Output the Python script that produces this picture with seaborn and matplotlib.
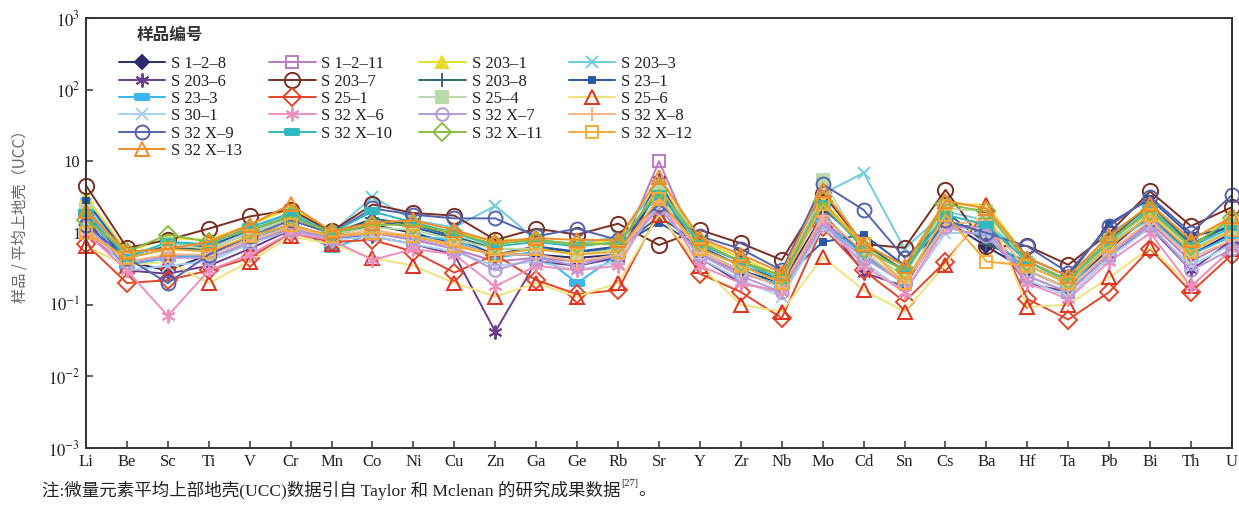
import numpy as np
import pandas as pd
import matplotlib
matplotlib.use("Agg")
import matplotlib.pyplot as plt
from matplotlib.font_manager import FontProperties
from matplotlib.ticker import NullLocator
import seaborn as sns

elements = ["Li", "Be", "Sc", "Ti", "V", "Cr", "Mn", "Co", "Ni", "Cu", "Zn", "Ga", "Ge", "Rb", "Sr",
            "Y", "Zr", "Nb", "Mo", "Cd", "Sn", "Cs", "Ba", "Hf", "Ta", "Pb", "Bi", "Th", "U"]

# sample / UCC ratios
S1_2_8   = [2.0, 0.40, 0.30, 0.50, 0.90, 1.30, 0.90, 1.30, 1.00, 0.70, 0.50, 0.50, 0.45, 0.50, 4.0, 0.55, 0.30, 0.20, 1.8, 0.50, 0.20, 1.5, 0.65, 0.30, 0.17, 0.60, 1.8, 0.50, 1.0]
S1_2_11  = [1.0, 0.35, 0.50, 0.45, 0.70, 1.20, 0.85, 1.00, 0.80, 0.60, 0.40, 0.45, 0.40, 0.45, 10.0, 0.50, 0.28, 0.18, 1.5, 0.50, 0.20, 1.2, 1.20, 0.25, 0.15, 0.50, 1.4, 0.40, 0.8]
S203_1   = [3.2, 0.55, 0.85, 0.80, 1.30, 2.20, 1.10, 1.40, 1.40, 1.00, 0.80, 0.80, 0.70, 0.80, 5.0, 0.80, 0.45, 0.25, 2.8, 0.70, 0.35, 2.5, 2.50, 0.45, 0.25, 0.90, 2.5, 0.80, 1.6]
S203_3   = [2.5, 0.50, 0.70, 0.70, 1.20, 1.80, 1.00, 3.20, 1.50, 1.20, 2.40, 0.80, 0.70, 0.90, 4.5, 0.75, 0.40, 0.22, 3.5, 6.90, 0.60, 2.0, 1.50, 0.40, 0.20, 1.00, 2.2, 0.70, 1.4]
S203_6   = [1.6, 0.30, 0.27, 0.35, 0.60, 1.10, 0.85, 0.90, 0.70, 0.50, 0.042, 0.40, 0.35, 0.45, 5.5, 0.45, 0.20, 0.15, 1.6, 0.28, 0.18, 1.5, 1.00, 0.20, 0.15, 0.50, 1.2, 0.30, 0.8]
S203_7   = [4.6, 0.62, 0.80, 1.15, 1.70, 2.10, 1.05, 2.50, 1.90, 1.75, 0.80, 1.15, 0.95, 1.35, 0.68, 1.10, 0.72, 0.42, 3.5, 0.70, 0.62, 4.0, 0.65, 0.66, 0.36, 1.00, 3.8, 1.25, 2.3]
S203_8   = [2.2, 0.45, 0.60, 0.60, 1.00, 1.60, 0.95, 1.60, 1.30, 0.90, 0.60, 0.60, 0.55, 0.60, 1.7, 0.70, 0.40, 0.25, 2.2, 0.70, 0.30, 2.0, 0.70, 0.40, 0.22, 0.80, 2.5, 0.70, 1.3]
S23_1    = [2.8, 0.50, 0.65, 0.65, 1.10, 1.70, 1.00, 1.50, 1.20, 0.85, 0.50, 0.65, 0.55, 0.65, 1.4, 0.65, 0.35, 0.22, 0.75, 0.95, 0.35, 1.3, 1.20, 0.45, 0.25, 1.35, 3.0, 0.90, 1.2]
S23_3    = [1.8, 0.35, 0.45, 0.50, 0.80, 1.30, 0.60, 1.00, 0.90, 0.80, 0.45, 0.55, 0.20, 0.50, 3.0, 0.55, 0.30, 0.18, 1.4, 0.50, 0.20, 1.4, 1.00, 0.30, 0.17, 0.70, 1.6, 0.50, 0.9]
S25_1    = [0.70, 0.20, 0.22, 0.30, 0.45, 1.00, 0.75, 0.80, 0.55, 0.28, 0.50, 0.22, 0.14, 0.16, 2.0, 0.27, 0.15, 0.065, 1.2, 0.30, 0.11, 0.40, 2.00, 0.12, 0.062, 0.15, 0.60, 0.15, 0.5]
S25_4    = [2.0, 0.50, 0.70, 0.60, 1.00, 1.60, 0.95, 1.20, 1.10, 0.80, 0.60, 0.60, 0.50, 0.60, 4.5, 0.60, 0.35, 0.20, 5.5, 0.60, 0.25, 2.2, 2.00, 0.35, 0.20, 0.70, 2.0, 0.60, 1.1]
S25_6    = [0.65, 0.35, 0.40, 0.20, 0.40, 0.90, 0.70, 0.45, 0.35, 0.20, 0.13, 0.20, 0.13, 0.20, 1.8, 0.35, 0.10, 0.08, 0.46, 0.16, 0.08, 0.36, 2.45, 0.093, 0.10, 0.24, 0.62, 0.18, 0.6]
S30_1    = [1.4, 0.30, 0.35, 0.40, 0.70, 1.10, 0.80, 0.90, 0.70, 0.55, 0.35, 0.40, 0.30, 0.40, 2.5, 0.45, 0.22, 0.13, 1.2, 0.40, 0.15, 1.0, 1.00, 0.22, 0.13, 0.45, 1.2, 0.35, 0.7]
S32X_6   = [1.0, 0.30, 0.07, 0.30, 0.50, 1.00, 0.80, 0.42, 0.60, 0.50, 0.18, 0.35, 0.30, 0.35, 3.0, 0.35, 0.20, 0.15, 1.5, 0.35, 0.15, 1.2, 1.20, 0.20, 0.12, 0.40, 1.0, 0.18, 0.6]
S32X_7   = [1.2, 0.40, 0.45, 0.45, 0.75, 1.10, 0.85, 1.00, 0.85, 0.60, 0.30, 0.45, 0.35, 0.50, 2.2, 0.50, 0.25, 0.15, 1.3, 0.45, 0.20, 1.2, 0.90, 0.25, 0.15, 0.50, 1.3, 0.30, 0.6]
S32X_8   = [1.1, 0.40, 0.50, 0.50, 0.80, 1.20, 0.90, 1.10, 0.90, 0.70, 0.50, 0.50, 0.40, 0.50, 2.8, 0.55, 0.30, 0.17, 1.7, 0.55, 0.20, 1.3, 1.50, 0.30, 0.17, 0.55, 1.5, 0.45, 0.8]
S32X_9   = [1.3, 0.45, 0.20, 0.50, 0.90, 1.50, 1.00, 2.20, 1.80, 1.60, 1.60, 0.90, 1.15, 0.80, 2.5, 0.90, 0.60, 0.30, 4.8, 2.10, 0.45, 1.5, 1.00, 0.65, 0.28, 1.25, 3.2, 1.00, 3.4]
S32X_10  = [1.9, 0.45, 0.75, 0.70, 1.20, 1.90, 1.00, 2.00, 1.40, 1.00, 0.65, 0.75, 0.65, 0.75, 3.5, 0.70, 0.40, 0.22, 2.5, 0.60, 0.30, 1.8, 1.30, 0.40, 0.22, 0.75, 2.2, 0.65, 1.2]
S32X_11  = [1.5, 0.55, 0.95, 0.75, 1.10, 1.70, 1.00, 1.30, 1.30, 1.00, 0.70, 0.80, 0.70, 0.70, 4.0, 0.75, 0.40, 0.25, 2.8, 0.60, 0.30, 2.5, 2.00, 0.40, 0.22, 0.80, 2.0, 0.65, 1.6]
S32X_12  = [1.0, 0.45, 0.60, 0.55, 0.90, 1.30, 0.90, 1.00, 0.90, 0.65, 0.50, 0.60, 0.50, 0.55, 3.0, 0.60, 0.35, 0.20, 2.5, 0.70, 0.20, 1.8, 0.40, 0.35, 0.20, 0.65, 1.8, 0.55, 1.1]
S32X_13  = [2.0, 0.55, 0.60, 0.75, 1.30, 2.50, 1.05, 1.40, 1.50, 1.10, 0.75, 0.85, 0.80, 0.80, 6.0, 0.85, 0.50, 0.28, 4.0, 0.70, 0.35, 2.8, 2.20, 0.45, 0.25, 0.90, 2.5, 0.80, 1.7]

labels = ["S 1–2–8", "S 1–2–11", "S 203–1", "S 203–3",
          "S 203–6", "S 203–7", "S 203–8", "S 23–1",
          "S 23–3", "S 25–1", "S 25–4", "S 25–6",
          "S 30–1", "S 32 X–6", "S 32 X–7", "S 32 X–8",
          "S 32 X–9", "S 32 X–10", "S 32 X–11", "S 32 X–12",
          "S 32 X–13"]
series = [S1_2_8, S1_2_11, S203_1, S203_3, S203_6, S203_7, S203_8, S23_1, S23_3, S25_1, S25_4,
          S25_6, S30_1, S32X_6, S32X_7, S32X_8, S32X_9, S32X_10, S32X_11, S32X_12, S32X_13]

bar = [(-1, -0.38), (1, -0.38), (1, 0.38), (-1, 0.38), (-1, -0.38)]
ast = (6, 2, 0)
# (line colour, marker, marker size, filled, marker colour)
styles = [
    ("#2d2a6e", "D", 7, True, "#2d2a6e"),
    ("#b77cc4", "s", 9, False, "#b77cc4"),
    ("#e6da2a", "^", 9, True, "#e6da2a"),
    ("#6fcddc", "x", 9, False, "#6fcddc"),
    ("#6b3b8c", ast, 10, False, "#6b3b8c"),
    ("#7a2e22", "o", 11, False, "#7a2e22"),
    ("#2f6b6e", "+", 10, False, "#2f6b6e"),
    ("#2a55a8", "s", 5, True, "#2a55a8"),
    ("#3ab6ea", bar, 10, True, "#3ab6ea"),
    ("#e2452a", "D", 9, False, "#e2452a"),
    ("#b9dba9", "s", 9, True, "#b9dba9"),
    ("#f2e27a", "^", 10, False, "#e0301e"),
    ("#a7cfee", "x", 9, False, "#a7cfee"),
    ("#ef8fc0", ast, 10, False, "#ef8fc0"),
    ("#b49bd8", "o", 9, False, "#b49bd8"),
    ("#f6b487", "+", 10, False, "#f6b487"),
    ("#5562ad", "o", 10, False, "#5562ad"),
    ("#32b9bf", bar, 10, True, "#32b9bf"),
    ("#8bbb45", "D", 9, False, "#8bbb45"),
    ("#f3ac35", "s", 9, False, "#f3ac35"),
    ("#f28c28", "^", 10, False, "#f28c28"),
]

sns.set_theme(style="white")
plt.rcParams["font.family"] = ["Liberation Serif", "Noto Sans CJK SC", "DejaVu Sans"]
plt.rcParams["mathtext.fontset"] = "stix"

fig = plt.figure(figsize=(12.39, 5.08), dpi=100)
ax = fig.add_axes([86 / 1239, 1 - 448 / 508, (1232 - 86) / 1239, (448 - 18) / 508])
ax.set_yscale("log")

pos = np.arange(len(elements))
handles = {}
for lab, vals, (lc, mk, ms, filled, mc) in zip(labels, series, styles):
    df = pd.DataFrame({"pos": pos, "val": vals})
    sns.lineplot(data=df, x="pos", y="val", ax=ax, color=lc, linewidth=1.4,
                 marker=mk, markersize=ms,
                 markerfacecolor=(mc if filled else "none"),
                 markeredgecolor=mc, markeredgewidth=1.4,
                 clip_on=False, legend=False)
    handles[lab] = ax.lines[-1]

ax.set_xlim(0, len(elements) - 1)
ax.set_ylim(1e-3, 1e3)
ax.set_xticks(pos)
ax.set_xticklabels(elements, fontsize=12, color="#222222")
yt = [1e-3, 1e-2, 1e-1, 1, 10, 1e2, 1e3]
ax.set_yticks(yt)
ax.set_yticklabels([r"$10^{-3}$", r"$10^{-2}$", r"$10^{-1}$", "1", "10", r"$10^{2}$", r"$10^{3}$"],
                   fontsize=12, color="#222222")
ax.yaxis.set_minor_locator(NullLocator())
ax.tick_params(axis="both", direction="in", length=5, width=1.1, color="#333333",
               bottom=True, left=True, top=False, right=False, pad=4)
ax.set_xlabel("")
ax.set_ylabel("")
for s in ax.spines.values():
    s.set_color("#333333")
    s.set_linewidth(1.4)

# legend in row-major order over 4 columns
ncol = 4
flat = [labels[i] for c in range(ncol) for i in range(c, len(labels), ncol)]
leg = ax.legend([handles[l] for l in flat], flat, ncol=ncol, loc="upper left",
                bbox_to_anchor=(0.017, (448 - 43) / 430), frameon=False,
                prop=FontProperties(family=["Liberation Serif"], size=12),
                handlelength=2.8, handletextpad=0.35, columnspacing=1.6,
                labelspacing=0.08, borderpad=0.3)
for t in leg.get_texts():
    t.set_color("#222222")
ax.text((137 - 86) / (1232 - 86), (448 - 35) / 430, "样品编号", transform=ax.transAxes,
        ha="left", va="center", family=["Noto Sans CJK SC"], weight="bold", fontsize=12,
        color="#333333")

fig.text(20 / 1239, 1 - 213 / 508, "样品 / 平均上地壳（UCC）", rotation=90, ha="center", va="center",
         family=["Noto Sans CJK SC"], fontsize=11, color="#666666", weight="medium")

cap = fig.text(42 / 1239, 1 - 490 / 508, "注:微量元素平均上部地壳(UCC)数据引自 Taylor 和 Mclenan 的研究成果数据",
               ha="left", va="center", family=["Liberation Serif", "Noto Sans CJK SC"], fontsize=12.6,
               color="#222222")
fig.canvas.draw()
bb = cap.get_window_extent()
x1 = bb.x1 / fig.bbox.width
sup = fig.text(x1 + 0.001, 1 - 484 / 508, "[27]", ha="left", va="center",
               family=["Liberation Serif"], fontsize=7.5, color="#222222")
fig.canvas.draw()
bb2 = sup.get_window_extent()
fig.text(bb2.x1 / fig.bbox.width, 1 - 490 / 508, "。", ha="left", va="center",
         family=["Noto Sans CJK SC"], fontsize=12.6, color="#222222")

fig.savefig("out.png", dpi=100, facecolor="white")
